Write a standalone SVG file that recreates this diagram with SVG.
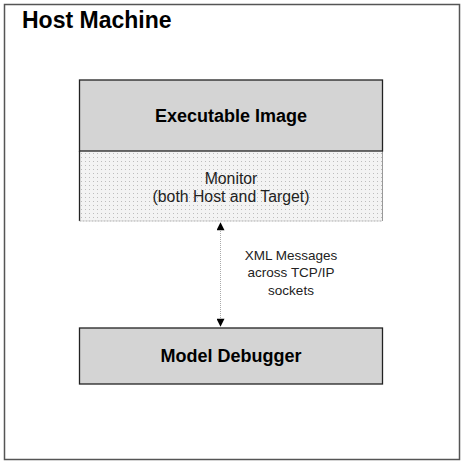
<svg xmlns="http://www.w3.org/2000/svg" width="464" height="464" viewBox="0 0 464 464">
<defs>
<style>
.t{font-family:"Liberation Sans",Arial,sans-serif;fill:#000;text-anchor:middle}
.b{font-weight:bold;font-size:18px}
.m{font-size:15.8px;fill:#222}
.r{font-size:13.5px;fill:#222}
.box{fill:#d4d4d4;stroke:#222;stroke-width:1.3}
</style>
<pattern id="dots" width="4" height="4" patternUnits="userSpaceOnUse">
<rect width="4" height="4" fill="#f3f3f3"/>
<rect x="1" y="1" width="1" height="1" fill="#bdbdbd"/>
</pattern>
<marker id="ah" viewBox="0 0 10 10" refX="9" refY="5" markerWidth="9" markerHeight="8" markerUnits="userSpaceOnUse" orient="auto-start-reverse">
<path d="M0,0 L10,5 L0,10 Z" fill="#000"/>
</marker>
</defs>
<rect width="464" height="464" fill="#fff"/>
<g id="host">
<rect x="4.5" y="4.5" width="455" height="455" fill="none" stroke="#555" stroke-width="1.5"/>
<text x="22" y="28" style="font-family:'Liberation Sans',Arial,sans-serif;font-weight:bold;font-size:23px">Host Machine</text>
</g>
<g id="monitor">
<rect x="79.5" y="151" width="303" height="70" fill="url(#dots)"/>
<line x1="79.5" y1="151" x2="79.5" y2="221" stroke="#222" stroke-width="1.3"/>
<line x1="382.5" y1="151" x2="382.5" y2="221" stroke="#999" stroke-width="1"/>
<line x1="79.5" y1="221" x2="382.5" y2="221" stroke="#aaa" stroke-width="1" stroke-dasharray="2,1"/>
<text class="t m" x="231" y="184">Monitor</text>
<text class="t m" x="231" y="202">(both Host and Target)</text>
</g>
<g id="executable">
<rect class="box" x="79.5" y="80" width="303" height="71"/>
<text class="t b" x="231" y="122">Executable Image</text>
</g>
<g id="debugger">
<rect class="box" x="79.5" y="328" width="303" height="56"/>
<text class="t b" x="231" y="362">Model Debugger</text>
</g>
<g id="connectors">
<line x1="220.5" y1="223" x2="220.5" y2="326" stroke="#aaa" stroke-width="1" stroke-dasharray="1,1" marker-start="url(#ah)" marker-end="url(#ah)"/>
<text class="t r" x="291" y="260">XML Messages</text>
<text class="t r" x="291" y="277">across TCP/IP</text>
<text class="t r" x="291" y="295">sockets</text>
</g>
</svg>
